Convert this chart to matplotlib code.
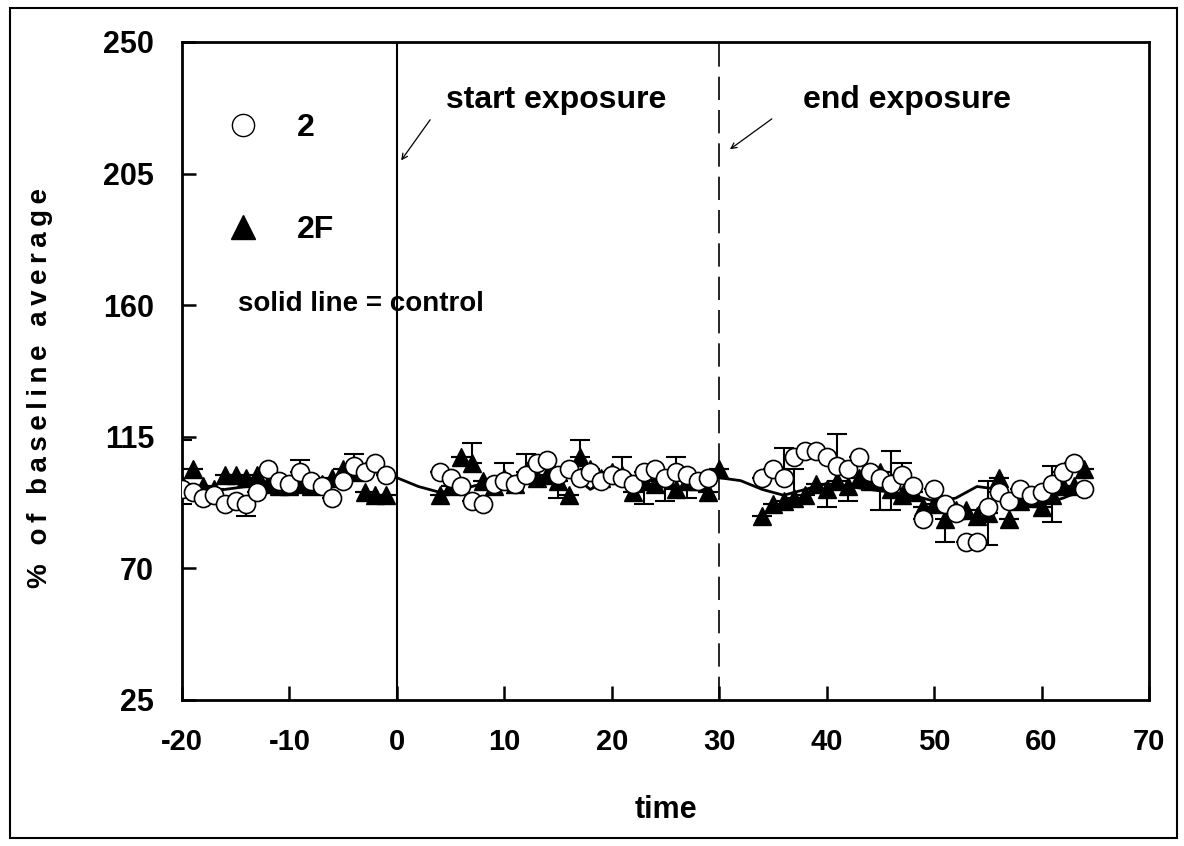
import matplotlib.pyplot as plt
from matplotlib.lines import Line2D
from matplotlib.patches import Rectangle

plt.rcParams['font.family'] = ['Liberation Sans', 'DejaVu Sans']
plt.rcParams['font.weight'] = 'bold'
plt.rcParams['axes.unicode_minus'] = False

# group "2" (open circles)
circ_t = list(range(-20, 0)) + list(range(4, 30)) + list(range(34, 65))
circ_v = [97, 96, 94, 95, 92, 93, 92, 96, 104, 100, 99, 103, 100, 98, 94, 100, 105, 103, 106, 102,
          103, 101, 98, 93, 92, 99, 100, 99, 102, 106, 107, 102, 104, 101, 103, 100, 102, 101, 99,
          103, 104, 101, 103, 102, 100, 101,
          101, 104, 101, 108, 110, 110, 108, 105, 104, 108, 103, 101, 99, 102, 98, 87, 97, 92, 89,
          79, 79, 91, 96, 93, 97, 95, 96, 99, 103, 106, 97]

# group "2F" (filled triangles)
tri_t = list(range(-20, 0)) + list(range(4, 31)) + list(range(34, 65))
tri_v = [99, 104, 98, 97, 102, 102, 101, 102, 99, 98, 98, 99, 98, 99, 101, 104, 103, 96, 95, 95,
         95, 98, 108, 106, 100, 98, 101, 99, 103, 101, 102, 100, 95, 108, 104, 101, 103, 102, 96,
         100, 99, 101, 97, 100, 100, 96, 104,
         88, 92, 93, 94, 95, 99, 97, 100, 98, 101, 100, 103, 97, 95, 96, 91, 92, 87, 90, 90, 88,
         89, 101, 87, 93, 94, 91, 95, 98, 98, 104]

# one-sided SEM bars (positive = drawn up, negative = drawn down)
circ_err_t = [-20, -14, -9, -4, 10, 21, 26, 15, 36, 41, 46, 47, 55, 61, 45]
circ_err = [-5, -4, 4, 4, 6, 7, 5, -8, 10, 11, 11, 4, 9, 6, -11]
tri_err_t = [-20, 7, 12, 17, 23, 25, 27, 37, 40, 42, 46, 51, 55, 61]
tri_err = [15, 7, 6, 6, -8, -8, -6, 10, -6, -5, -7, -8, -11, -9]

# control (solid line)
ctrl_t = list(range(-20, 65, 2))
ctrl_v = [97, 96, 97, 98, 98, 99, 99, 100, 102, 103, 101, 98, 96, 97, 99, 101, 101, 100, 103, 97,
          101, 101, 100, 100, 101, 101, 100, 97, 95, 97, 99, 98, 97, 96, 95, 93, 94, 98, 97, 94,
          92, 94, 97]

x_ticks = [-20, -10, 0, 10, 20, 30, 40, 50, 60, 70]
y_ticks = [25, 70, 115, 160, 205, 250]


def split_err(times, err_t, err):
    up = [0] * len(times)
    dn = [0] * len(times)
    for t, e in zip(err_t, err):
        i = times.index(t)
        if e > 0:
            up[i] = e
        else:
            dn[i] = -e
    return [dn, up]


def spaced(s):
    # the scanned labels are letter-spaced
    return '\u2009'.join(s)


fig = plt.figure(figsize=(11.84, 8.46), dpi=100)
ax = fig.add_axes([0.1537, 0.1726, 0.8167, 0.7778])

ax.plot(ctrl_t, ctrl_v, color='black', lw=2, zorder=2)

ax.errorbar(circ_t, circ_v, yerr=split_err(circ_t, circ_err_t, circ_err),
            fmt='none', ecolor='black', elinewidth=1.5, capsize=7, capthick=1.5, zorder=3)
ax.errorbar(tri_t, tri_v, yerr=split_err(tri_t, tri_err_t, tri_err),
            fmt='none', ecolor='black', elinewidth=1.5, capsize=7, capthick=1.5, zorder=3)

ax.plot(tri_t, tri_v, ls='none', marker='^', ms=13, mfc='black', mec='black', zorder=4)
ax.plot(circ_t, circ_v, ls='none', marker='o', ms=13, mfc='white', mec='black', mew=1.2, zorder=5)

ax.axvline(0, color='black', lw=1.5, zorder=1)
ax.axvline(30, color='black', lw=1.2, ls=(0, (14, 6)), zorder=1)

ax.set_xlim(-20, 70)
ax.set_ylim(25, 250)
ax.set_xticks(x_ticks)
ax.set_yticks(y_ticks)
ax.tick_params(direction='in', length=10, width=1.8)
ax.tick_params(axis='x', pad=20, labelsize=21)
ax.tick_params(axis='y', pad=20, labelsize=22)
for s in ax.spines.values():
    s.set_linewidth(2)

ax.set_xlabel('time', fontsize=22, fontweight='bold', labelpad=28)
ax.set_ylabel(spaced('% of baseline average'), fontsize=20, fontweight='bold')
ax.yaxis.set_label_coords(-0.133, 0.474)

ax.text(4.6, 230.3, 'start exposure', fontsize=23, fontweight='bold', va='center', ha='left')
ax.annotate('', xy=(0.4, 209.5), xytext=(3.1, 223.4),
            arrowprops=dict(arrowstyle='->', color='black', lw=0.9, shrinkA=0, shrinkB=0))
ax.text(37.8, 230.3, 'end exposure', fontsize=23, fontweight='bold', va='center', ha='left')
ax.annotate('', xy=(31.0, 213.3), xytext=(34.9, 223.7),
            arrowprops=dict(arrowstyle='->', color='black', lw=0.9, shrinkA=0, shrinkB=0))

handles = [Line2D([], [], ls='none', marker='o', ms=16, mfc='white', mec='black'),
           Line2D([], [], ls='none', marker='^', ms=17, mfc='black', mec='black')]
ax.legend(handles, ['2', '2F'], loc='upper left', bbox_to_anchor=(0.0, 0.935), frameon=False,
          prop={'size': 23, 'weight': 'bold'}, labelspacing=2.25, handletextpad=0.7)
ax.text(-14.8, 160.4, 'solid line = control', fontsize=20, fontweight='bold', va='center', ha='left')

fig.patches.append(Rectangle((0.0085, 0.0095), 0.9856, 0.9811, transform=fig.transFigure,
                             fill=False, lw=1.5, ec='black'))

fig.savefig('out.png', dpi=100)
